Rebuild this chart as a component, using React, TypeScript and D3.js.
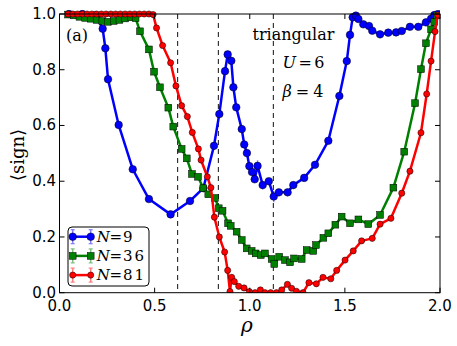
import React from "react";
import * as d3 from "d3";

// [rho, <sign>, error]
const blueN9: [number, number, number][] = [
  [0.05, 1.0, 0.002], [0.12, 1.0, 0.002], [0.19, 0.995, 0.003],
  [0.227, 0.947, 0.004], [0.241, 0.877, 0.004], [0.255, 0.766, 0.004],
  [0.311, 0.602, 0.004], [0.385, 0.443, 0.004], [0.47, 0.336, 0.004],
  [0.584, 0.281, 0.004], [0.686, 0.329, 0.004], [0.756, 0.375, 0.004],
  [0.812, 0.527, 0.004], [0.84, 0.641, 0.004], [0.87, 0.795, 0.005],
  [0.884, 0.855, 0.005], [0.903, 0.832, 0.006], [0.914, 0.737, 0.006],
  [0.929, 0.665, 0.006], [0.958, 0.587, 0.006], [0.971, 0.532, 0.008],
  [0.985, 0.501, 0.01], [0.998, 0.454, 0.012], [1.012, 0.433, 0.012],
  [1.026, 0.407, 0.012], [1.041, 0.455, 0.02], [1.068, 0.386, 0.015],
  [1.1, 0.4, 0.012], [1.126, 0.345, 0.02], [1.153, 0.36, 0.012],
  [1.199, 0.36, 0.01], [1.229, 0.386, 0.008], [1.286, 0.412, 0.01],
  [1.343, 0.459, 0.01], [1.413, 0.545, 0.006], [1.471, 0.706, 0.005],
  [1.51, 0.831, 0.004], [1.527, 0.925, 0.004], [1.541, 0.988, 0.003],
  [1.558, 0.994, 0.003], [1.571, 0.982, 0.003], [1.597, 0.963, 0.003],
  [1.627, 0.957, 0.003], [1.644, 0.94, 0.003], [1.685, 0.927, 0.003],
  [1.728, 0.933, 0.003], [1.769, 0.934, 0.003], [1.799, 0.939, 0.003],
  [1.842, 0.954, 0.003], [1.886, 0.954, 0.003], [1.926, 0.97, 0.003],
  [1.953, 0.983, 0.003], [1.97, 0.996, 0.002], [1.99, 1.0, 0.002],
];

const greenN36: [number, number, number][] = [
  [0.045, 0.998, 0.002], [0.075, 0.995, 0.002], [0.105, 0.99, 0.002],
  [0.135, 0.986, 0.002], [0.165, 0.983, 0.002], [0.195, 0.979, 0.002],
  [0.225, 0.975, 0.002], [0.255, 0.972, 0.002], [0.285, 0.975, 0.002],
  [0.315, 0.979, 0.002], [0.345, 0.984, 0.002], [0.375, 0.988, 0.002],
  [0.4, 0.985, 0.002], [0.423, 0.938, 0.003], [0.47, 0.873, 0.003],
  [0.497, 0.793, 0.003], [0.528, 0.737, 0.004], [0.572, 0.664, 0.004],
  [0.598, 0.596, 0.004], [0.642, 0.516, 0.004], [0.669, 0.482, 0.004],
  [0.696, 0.426, 0.004], [0.728, 0.416, 0.004], [0.756, 0.375, 0.005],
  [0.782, 0.353, 0.005], [0.817, 0.34, 0.005], [0.837, 0.303, 0.005],
  [0.857, 0.294, 0.005], [0.886, 0.249, 0.005], [0.9, 0.24, 0.005],
  [0.931, 0.219, 0.005], [0.958, 0.189, 0.005], [0.984, 0.159, 0.005],
  [1.01, 0.15, 0.005], [1.031, 0.141, 0.005], [1.058, 0.135, 0.005],
  [1.08, 0.141, 0.005], [1.115, 0.121, 0.005], [1.129, 0.103, 0.006],
  [1.155, 0.129, 0.005], [1.185, 0.117, 0.005], [1.212, 0.109, 0.005],
  [1.233, 0.123, 0.005], [1.273, 0.121, 0.005], [1.299, 0.153, 0.005],
  [1.334, 0.15, 0.005], [1.348, 0.171, 0.005], [1.387, 0.197, 0.005],
  [1.413, 0.213, 0.005], [1.45, 0.244, 0.005], [1.483, 0.273, 0.005],
  [1.527, 0.249, 0.005], [1.571, 0.263, 0.005], [1.623, 0.246, 0.005],
  [1.685, 0.279, 0.005], [1.755, 0.377, 0.005], [1.812, 0.506, 0.005],
  [1.869, 0.68, 0.004], [1.9, 0.802, 0.004], [1.926, 0.895, 0.003],
  [1.953, 0.945, 0.003], [1.97, 0.972, 0.002], [1.985, 0.995, 0.002],
];

const redN81: [number, number, number][] = [
  [0.045, 1.0, 0.001], [0.07, 1.0, 0.001], [0.095, 1.0, 0.001],
  [0.12, 1.0, 0.001], [0.145, 1.0, 0.001], [0.17, 1.0, 0.001],
  [0.195, 1.0, 0.001], [0.22, 1.0, 0.001], [0.245, 1.0, 0.001],
  [0.27, 1.0, 0.001], [0.295, 1.0, 0.001], [0.32, 1.0, 0.001],
  [0.345, 1.0, 0.001], [0.37, 1.0, 0.001], [0.395, 1.0, 0.001],
  [0.42, 1.0, 0.001], [0.445, 1.0, 0.001], [0.47, 1.0, 0.001],
  [0.492, 0.998, 0.001], [0.51, 0.95, 0.003], [0.542, 0.887, 0.003],
  [0.584, 0.825, 0.004], [0.612, 0.742, 0.004], [0.642, 0.671, 0.004],
  [0.672, 0.632, 0.004], [0.698, 0.575, 0.004], [0.73, 0.516, 0.004],
  [0.744, 0.476, 0.004], [0.777, 0.416, 0.005], [0.796, 0.377, 0.005],
  [0.814, 0.271, 0.006], [0.84, 0.2, 0.006], [0.868, 0.146, 0.008],
  [0.884, 0.08, 0.01], [0.896, 0.004, 0.01], [0.905, 0.055, 0.012],
  [0.919, 0.04, 0.01], [0.942, 0.023, 0.008], [0.97, 0.017, 0.008],
  [0.998, 0.004, 0.008], [1.028, 0.0, 0.008], [1.056, 0.01, 0.008],
  [1.08, 0.0, 0.008], [1.11, 0.0, 0.008], [1.14, 0.0, 0.008],
  [1.168, 0.01, 0.008], [1.198, 0.03, 0.008], [1.22, 0.016, 0.008],
  [1.245, 0.005, 0.008], [1.28, 0.0, 0.01], [1.311, 0.036, 0.01],
  [1.35, 0.032, 0.008], [1.385, 0.055, 0.008], [1.426, 0.05, 0.008],
  [1.457, 0.08, 0.008], [1.501, 0.117, 0.006], [1.544, 0.15, 0.006],
  [1.588, 0.186, 0.006], [1.644, 0.195, 0.006], [1.685, 0.246, 0.006],
  [1.742, 0.267, 0.006], [1.799, 0.357, 0.006], [1.842, 0.436, 0.005],
  [1.9, 0.574, 0.005], [1.93, 0.713, 0.004], [1.953, 0.831, 0.003],
  [1.974, 0.937, 0.002], [1.988, 0.996, 0.001],
];

const dashedRho = [0.621, 0.835, 1.124];
const xTicks = [0, 0.5, 1.0, 1.5, 2.0];
const yTicks = [0, 0.2, 0.4, 0.6, 0.8, 1.0];
const legendLabels = ["9", "36", "81"];

const W = 457, H = 346;
const L = 59.5, R = 440, T = 14, B = 292.7;

const series = [
  { data: blueN9, color: "#0000ff", marker: "circle", size: 3.8, label: legendLabels[0] },
  { data: greenN36, color: "#008000", marker: "square", size: 3.4, label: legendLabels[1] },
  { data: redN81, color: "#ff0000", marker: "circle", size: 3.1, label: legendLabels[2] },
];

function Marker({ x, y, s }: { x: number; y: number; s: any }) {
  if (s.marker === "square") {
    return <rect x={x - s.size} y={y - s.size} width={s.size * 2} height={s.size * 2} fill={s.color} stroke="#000" strokeWidth={0.5} />;
  }
  return <circle cx={x} cy={y} r={s.size} fill={s.color} stroke="#000" strokeWidth={0.5} />;
}

export default function App() {
  const x = d3.scaleLinear().domain([0, 2]).range([L, R]);
  const y = d3.scaleLinear().domain([0, 1]).range([B, T]);
  const line = d3.line<[number, number, number]>().x(d => x(d[0])).y(d => y(d[1]));
  const serif = "'DejaVu Serif', serif";
  const sans = "'DejaVu Sans', sans-serif";

  return (
    <svg width={W} height={H} style={{ position: "absolute", left: 0, top: 0, background: "#fff" }}>
      <defs>
        <clipPath id="plot"><rect x={L} y={T - 4} width={R - L} height={B - T + 4} /></clipPath>
      </defs>
      <rect x={0} y={0} width={W} height={H} fill="#fff" />
      {dashedRho.map((r, i) => (
        <line key={i} x1={x(r)} x2={x(r)} y1={T} y2={B} stroke="#111" strokeWidth={1} strokeDasharray="5,4" />
      ))}
      <g clipPath="url(#plot)">
        {series.map((s, si) => (
          <g key={si}>
            {s.data.map((d, i) => (
              <g key={i} opacity={0.5}>
                <line x1={x(d[0])} x2={x(d[0])} y1={y(d[1] - d[2])} y2={y(d[1] + d[2])} stroke={s.color} strokeWidth={1.5} />
              </g>
            ))}
            <path d={line(s.data) || ""} fill="none" stroke={s.color} strokeWidth={2.5} strokeLinejoin="round" />
            {s.data.map((d, i) => (
              <Marker key={i} x={x(d[0])} y={y(d[1])} s={s} />
            ))}
          </g>
        ))}
      </g>
      {/* frame */}
      <rect x={L} y={T} width={R - L} height={B - T} fill="none" stroke="#000" strokeWidth={1} />
      {xTicks.map((t, i) => (
        <g key={i}>
          <line x1={x(t)} x2={x(t)} y1={B} y2={B - 5} stroke="#000" />
          <line x1={x(t)} x2={x(t)} y1={T} y2={T + 5} stroke="#000" />
          <text x={x(t)} y={310.5} textAnchor="middle" fontFamily={sans} fontSize={15}>{t.toFixed(1)}</text>
        </g>
      ))}
      {yTicks.map((t, i) => (
        <g key={i}>
          <line x1={L} x2={L + 5} y1={y(t)} y2={y(t)} stroke="#000" />
          <line x1={R} x2={R - 5} y1={y(t)} y2={y(t)} stroke="#000" />
          <text x={56} y={y(t) + 5} textAnchor="end" fontFamily={sans} fontSize={15}>{t.toFixed(1)}</text>
        </g>
      ))}
      {/* axis labels */}
      <text x={247} y={332} textAnchor="middle" fontFamily={serif} fontStyle="italic" fontSize={20}>ρ</text>
      <text transform="translate(24,155) rotate(-90)" textAnchor="middle" fontFamily={serif} fontSize={18}>⟨sign⟩</text>
      {/* annotations */}
      <text x={66} y={41} fontFamily={serif} fontSize={16}>(a)</text>
      <text x={252.5} y={40} fontFamily={serif} fontSize={16}>triangular</text>
      <text x={282.5} y={68} fontFamily={serif} fontSize={16} textLength={42} lengthAdjust="spacing">
        <tspan fontStyle="italic">U</tspan><tspan>=6</tspan>
      </text>
      <text x={282.5} y={96.5} fontFamily={serif} fontSize={16} textLength={41} lengthAdjust="spacing">
        <tspan fontStyle="italic">β</tspan><tspan>=4</tspan>
      </text>
      {/* legend */}
      <rect x={68} y={227} width={81} height={59} rx={4} fill="#fff" stroke="#000" strokeWidth={1} />
      {series.map((s, i) => {
        const ly = 236.7 + i * 19.2;
        return (
          <g key={i}>
            {[72.7, 90.7].map((lx, j) => (
              <g key={j} opacity={0.5}>
                <line x1={lx} x2={lx} y1={ly - 7} y2={ly + 7} stroke={s.color} strokeWidth={1.5} />
                <line x1={lx - 2} x2={lx + 2} y1={ly + 7} y2={ly + 7} stroke={s.color} strokeWidth={1.2} />
                <line x1={lx - 2} x2={lx + 2} y1={ly - 7} y2={ly - 7} stroke={s.color} strokeWidth={1.2} />
              </g>
            ))}
            <line x1={72.7} x2={90.7} y1={ly} y2={ly} stroke={s.color} strokeWidth={2.5} />
            <Marker x={72.7} y={ly} s={s} />
            <Marker x={90.7} y={ly} s={s} />
            <text x={96.7} y={ly + 5.2} fontFamily={serif} fontSize={15} fontStyle="italic">N</text>
            <text x={109.5} y={ly + 5.2} fontFamily={serif} fontSize={15}>=</text>
            <text x={123} y={ly + 5.2} fontFamily={serif} fontSize={15} letterSpacing={s.label.length > 1 ? 2 : 0}>{s.label}</text>
          </g>
        );
      })}
    </svg>
  );
}
